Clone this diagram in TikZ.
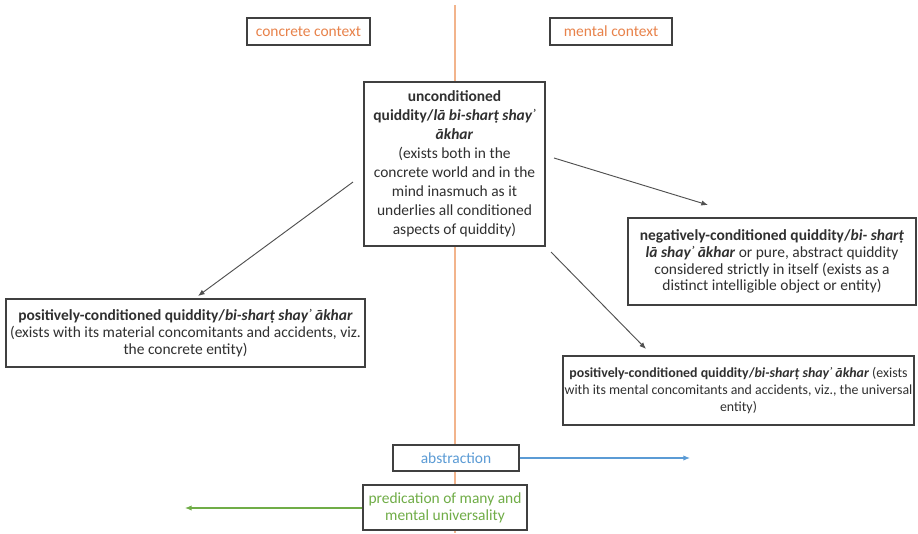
\documentclass[tikz,border=0pt]{standalone}
\usepackage{fontspec}
\setmainfont{Carlito}
\usetikzlibrary{arrows.meta}
\definecolor{boxline}{HTML}{404040}
\definecolor{txt}{HTML}{303030}
\definecolor{orangetxt}{HTML}{E8824A}
\definecolor{orangeline}{HTML}{F2B48C}
\definecolor{bluetxt}{HTML}{5B9BD5}
\definecolor{greentxt}{HTML}{70AD47}
\definecolor{arrowcol}{HTML}{505050}
\begin{document}
\begin{tikzpicture}[x=0.75pt,y=-0.75pt,
  box/.style={draw=boxline,line width=1.1pt,fill=white,align=center,text=txt,inner sep=1pt,
    font=\fontsize{11.6}{12.6}\selectfont},
  conn/.style={draw=arrowcol,line width=0.7pt,-{Latex[length=5pt,width=4pt]}},
]
\useasboundingbox (0,0) rectangle (918,533);
% vertical divider
\coordinate (vtop) at (455,5);
\coordinate (vbot) at (455,533);
\draw[orangeline,line width=1pt] (vtop) -- (vbot);

\node[box,text=orangetxt,minimum width=92.25pt,minimum height=20.25pt] (cc) at (308.5,31.5) {concrete context};
\node[box,text=orangetxt,minimum width=91.5pt,minimum height=20.25pt] (mc) at (611,31.5) {mental context};

\node[box,minimum width=135.75pt,minimum height=123pt,
  font=\fontsize{11.6}{14.3}\selectfont] (uq) at (454.5,164)
  {\textbf{unconditioned}\\\textbf{quiddity/\textit{lā bi-sharṭ shayʾ}}\\\textbf{\textit{ākhar}}\\(exists both in the\\concrete world and in the\\mind inasmuch as it\\underlies all conditioned\\aspects of quiddity)};

\node[box,minimum width=216pt,minimum height=65.25pt] (nq) at (772,261.5)
  {\textbf{negatively-conditioned quiddity/\textit{bi- sharṭ}}\\\textbf{\textit{lā shayʾ ākhar}} or pure, abstract quiddity\\considered strictly in itself (exists as a\\distinct intelligible object or entity)};

\node[box,minimum width=269.25pt,minimum height=51pt] (pl) at (185.5,333)
  {\textbf{positively-conditioned quiddity/\textit{bi-sharṭ shayʾ ākhar}}\\(exists with its material concomitants and accidents, viz.\\the concrete entity)};

\node[box,minimum width=263.25pt,minimum height=51.75pt,
  font=\fontsize{10.4}{12.6}\selectfont] (pr) at (738.5,390.5)
  {\textbf{positively-conditioned quiddity/\textit{bi-sharṭ shayʾ ākhar}} (exists\\with its mental concomitants and accidents, viz., the universal\\entity)};

\node[box,text=bluetxt,minimum width=94.5pt,minimum height=19.5pt] (ab) at (456,458) {abstraction};
\node[box,text=greentxt,minimum width=123pt,minimum height=33.75pt] (pm) at (445,507.5) {predication of many and\\mental universality};

% arrow end points
\coordinate (a1s) at (353,182);
\coordinate (a1e) at (198,296);
\coordinate (a2s) at (554,158);
\coordinate (a2e) at (708,205);
\coordinate (a3s) at (551,252);
\coordinate (a3e) at (646,349);
\coordinate (abe) at (690,458);
\coordinate (pme) at (185,508);

\draw[conn] (a1s) -- (a1e);
\draw[conn] (a2s) -- (a2e);
\draw[conn] (a3s) -- (a3e);
\draw[draw=bluetxt,line width=0.8pt,-{Latex[length=5pt,width=4pt]}] (ab.east) -- (abe);
\draw[draw=greentxt,line width=0.8pt,-{Latex[length=5pt,width=4pt]}] (pm.west |- pme) -- (pme);
\end{tikzpicture}
\end{document}
